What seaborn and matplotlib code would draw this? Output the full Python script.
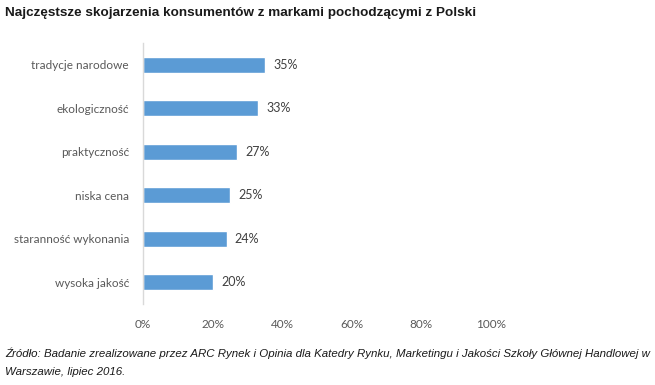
import matplotlib
matplotlib.use("Agg")
import matplotlib.pyplot as plt
import seaborn as sns
import pandas as pd

# Data
categories = ["tradycje narodowe", "ekologiczność", "praktyczność",
              "niska cena", "staranność wykonania", "wysoka jakość"]
values = [35, 33, 27, 25, 24, 20]
xticks = [0, 20, 40, 60, 80, 100]

df = pd.DataFrame({"kategoria": categories, "procent": values})

sns.set_style("white")
plt.rcParams["font.family"] = ["Lato", "DejaVu Sans"]

fig = plt.figure(figsize=(6.55, 3.85), dpi=100)
ax = fig.add_axes([0.2183, 0.2104, 0.5313, 0.678])

sns.barplot(data=df, x="procent", y="kategoria", color="#5B9BD5",
            width=0.36, saturation=1, ax=ax)

for i, v in enumerate(values):
    ax.text(v + 2.4, i, f"{v}%", va="center", ha="left",
            fontsize=9, color="#404040")

ax.set_xlim(0, 100)
ax.set_xticks(xticks)
ax.set_xticklabels([f"{t}%" for t in xticks])
ax.set_xlabel("")
ax.set_ylabel("")
ax.tick_params(axis="x", length=0, pad=11, labelsize=8.5, labelcolor="#595959")
ax.tick_params(axis="y", length=0, pad=10, labelsize=8.5, labelcolor="#595959")
for s in ["top", "right", "bottom"]:
    ax.spines[s].set_visible(False)
ax.spines["left"].set_color("#D9D9D9")
ax.spines["left"].set_linewidth(1)

fig.text(0.008, 0.967, "Najczęstsze skojarzenia konsumentów z markami pochodzącymi z Polski",
         fontsize=9.7, fontweight="bold", family="Liberation Sans", color="#1a1a1a",
         va="center", ha="left")

fig.text(0.008, 0.083,
         "Źródło: Badanie zrealizowane przez ARC Rynek i Opinia dla Katedry Rynku, Marketingu i Jakości Szkoły Głównej Handlowej w",
         fontsize=8.25, style="italic", family="Liberation Sans", color="#1a1a1a",
         va="center", ha="left")
fig.text(0.008, 0.034, "Warszawie, lipiec 2016.",
         fontsize=8.25, style="italic", family="Liberation Sans", color="#1a1a1a",
         va="center", ha="left")

fig.savefig("out.png", dpi=100)
